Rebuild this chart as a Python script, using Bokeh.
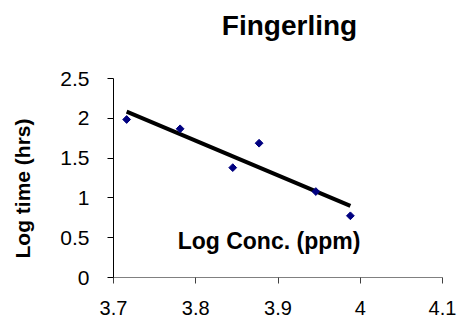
import numpy as np
from bokeh.plotting import figure
from bokeh.models import FixedTicker, Label, Range1d
from bokeh.embed import file_html
from bokeh.resources import INLINE

# ---- data ----
log_conc = [3.716, 3.781, 3.845, 3.877, 3.946, 3.988]
log_time = [1.985, 1.868, 1.380, 1.687, 1.080, 0.775]
x_ticks = [3.7, 3.8, 3.9, 4.0, 4.1]
x_tick_labels = ["3.7", "3.8", "3.9", "4", "4.1"]
y_ticks = [0, 0.5, 1, 1.5, 2, 2.5]
y_tick_labels = ["0", "0.5", "1", "1.5", "2", "2.5"]
title_text = "Fingerling"
x_title = "Log Conc. (ppm)"
y_title = "Log time (hrs)"

# linear trend line (least squares fit of the points)
slope, intercept = np.polyfit(log_conc, log_time, 1)
fit_x = [min(log_conc), max(log_conc)]
fit_y = [slope * x + intercept for x in fit_x]

FONT = "Liberation Sans"
W, H = 459, 320
# axis box in pixels: x 3.7..4.1 spans px 113..442, y 0..2.5 spans px 277..78
x0, x1, xp0, xp1 = x_ticks[0], x_ticks[-1], 113, 442
y0, y1, yp0, yp1 = y_ticks[0], y_ticks[-1], 277, 78
xs = (x1 - x0) / (xp1 - xp0)
ys = (y1 - y0) / (yp0 - yp1)
x_range = Range1d(x0 - xp0 * xs, x1 + (W - xp1) * xs)
y_range = Range1d(y0 - (H - yp0) * ys, y1 + yp1 * ys)

p = figure(width=W, height=H, x_range=x_range, y_range=y_range,
           output_backend="svg", toolbar_location=None,
           min_border_left=0, min_border_right=0,
           min_border_top=0, min_border_bottom=0)
p.title = None
p.outline_line_color = None
p.grid.visible = False
p.background_fill_color = "white"
p.border_fill_color = "white"

p.line(fit_x, fit_y, line_color="black", line_width=4)
p.scatter(log_conc, log_time, marker="square", angle=np.pi / 4, size=5.5,
          fill_color="#000080", line_color="#000080")

for ax in (p.xaxis[0], p.yaxis[0]):
    ax.major_tick_in = 0
    ax.major_tick_out = 6
    ax.minor_tick_line_color = None
    ax.major_label_text_font = FONT
    ax.major_label_text_color = "black"

p.xaxis.major_label_text_font_size = "20px"
p.yaxis.major_label_text_font_size = "21px"

p.xaxis.fixed_location = y0
p.xaxis.bounds = (x0, x1)
p.yaxis.fixed_location = x0
p.yaxis.bounds = (y0, y1)

p.xaxis.axis_line_color = "#808080"
p.xaxis.major_tick_line_color = "#404040"
p.yaxis.axis_line_color = "black"
p.yaxis.major_tick_line_color = "black"

p.xaxis.ticker = FixedTicker(ticks=x_ticks)
p.yaxis.ticker = FixedTicker(ticks=y_ticks)
p.xaxis.major_label_overrides = dict(zip(x_ticks, x_tick_labels))
p.yaxis.major_label_overrides = dict(zip([float(t) for t in y_ticks], y_tick_labels))
p.xaxis.major_label_standoff = 17
p.yaxis.major_label_standoff = 18

p.add_layout(Label(x=3.91398, y=3.1658, text=title_text, text_font=FONT,
                   text_font_size="28px", text_font_style="bold",
                   text_color="black", text_align="center", text_baseline="middle"))
p.add_layout(Label(x=3.58936, y=1.1181, text=y_title, text_font=FONT,
                   text_font_size="21px", text_font_style="bold", angle=np.pi / 2,
                   text_color="black", text_align="center", text_baseline="middle"))
p.add_layout(Label(x=3.88906, y=0.4523, text=x_title, text_font=FONT,
                   text_font_size="23px", text_font_style="bold",
                   text_color="black", text_align="center", text_baseline="middle"))

open("out.html", "w").write(file_html(p, INLINE))
